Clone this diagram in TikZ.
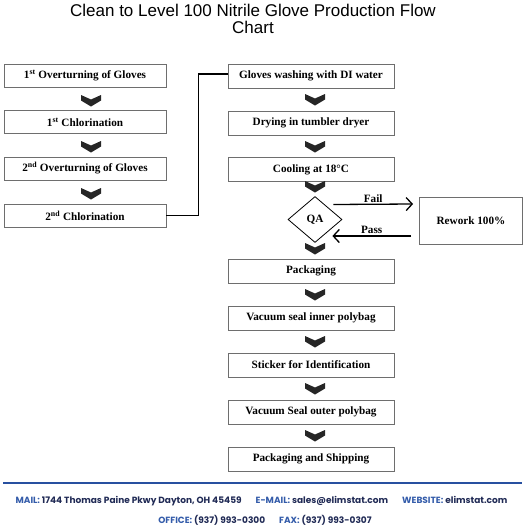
\documentclass[tikz,border=0pt]{standalone}
\usepackage{fontspec}
\setmainfont{Liberation Serif}
\newfontfamily\titlefont{Liberation Sans}
\newfontfamily\footfont{Poppins}
\usetikzlibrary{arrows.meta,shapes.geometric,calc}
\definecolor{boxline}{RGB}{110,110,110}
\definecolor{footlabel}{RGB}{52,92,170}
\definecolor{footval}{RGB}{32,42,85}
\definecolor{rulecol}{RGB}{40,80,160}
\begin{document}
\begin{tikzpicture}[x=1pt,y=-1pt,
  boxfont/.style={font=\fontsize{11.2}{13}\selectfont\bfseries},
  stepbox/.style={draw=boxline,line width=0.9pt,fill=white,minimum height=23pt,inner sep=0pt,boxfont},
  leftbox/.style={stepbox,minimum width=162pt},
  rightbox/.style={stepbox,minimum width=166pt,minimum height=24pt},
  chev/.style={fill=black!85},
  flowarr/.style={line width=1.3pt,-{Straight Barb[length=6pt,width=13pt,line width=1.3pt]}},
  footl/.style={inner sep=0pt,font=\footfont\fontsize{9}{10}\selectfont\bfseries},
]
\useasboundingbox (0,0) rectangle (525,525);
% title
\node[font=\titlefont\fontsize{17}{18}\selectfont] (title1) at (253,10.5) {Clean to Level 100 Nitrile Glove Production Flow};
\node[font=\titlefont\fontsize{17}{18}\selectfont] (title2) at (253,27.5) {Chart};
% left column
\node[leftbox] (o1) at (85,76) {1\textsuperscript{st} Overturning of Gloves};
\node[leftbox] (c1) at (85,122) {1\textsuperscript{st} Chlorination};
\node[leftbox] (o2) at (85,168.5) {2\textsuperscript{nd} Overturning of Gloves};
\node[leftbox] (c2) at (85,215.5) {2\textsuperscript{nd} Chlorination};
% right column
\node[rightbox] (wash) at (311,76) {Gloves washing with DI water};
\node[rightbox] (dry) at (311,123) {Drying in tumbler dryer};
\node[rightbox] (cool) at (311,169.5) {Cooling at 18°C};
\node[draw=black,line width=0.8pt,diamond,aspect=1.17,minimum width=54pt,minimum height=46pt,inner sep=0pt,boxfont] (qa) at (315,219.5) {QA};
\node[draw=boxline,line width=0.9pt,minimum width=103pt,minimum height=47pt,inner sep=0pt,boxfont] (rework) at (471,220.5) {Rework 100\%};
\node[rightbox] (pack) at (311,271) {Packaging};
\node[rightbox] (vin) at (311,318) {Vacuum seal inner polybag};
\node[rightbox] (stick) at (311,365) {Sticker for Identification};
\node[rightbox] (vout) at (311,412) {Vacuum Seal outer polybag};
\node[rightbox] (ship) at (311,459) {Packaging and Shipping};
% connector
\draw[line width=1.3pt] (c2.east) -- ++(32,0) |- ([yshift=2pt]wash.west);
% chevrons
\foreach \cx/\cy in {91/101, 91/147, 91/194, 315/100, 315/147, 315/187, 315/249, 315/295, 315/342, 315/389, 315/436}{
  \fill[chev] (\cx-10,\cy-6) -- (\cx,\cy-1.5) -- (\cx+10,\cy-6) -- (\cx+10,\cy-0.5) -- (\cx,\cy+5.5) -- (\cx-10,\cy-0.5) -- cycle;
}
% QA arrows
\coordinate (fs) at ($(qa.east)+(-9,-15)$);
\coordinate (fe) at ($(rework.west)+(-6,-16.5)$);
\coordinate (ps) at ($(rework.west)+(-8,15.5)$);
\coordinate (pe) at ($(qa.east)+(-10,16.5)$);
\draw[flowarr] (fs) -- (fe) node[midway,above=-2pt,boxfont] (faillbl) {Fail};
\draw[flowarr] (ps) -- (pe) node[midway,above=-2pt,boxfont] (passlbl) {Pass};
% footer
\draw[rulecol,line width=2pt] (3,483) -- (522,483);
\node[footl] (line1) at (261.5,501) {\textcolor{footlabel}{MAIL:} \textcolor{footval}{1744 Thomas Paine Pkwy Dayton, OH 45459}\hspace{14pt}\textcolor{footlabel}{E-MAIL:} \textcolor{footval}{sales@elimstat.com}\hspace{14pt}\textcolor{footlabel}{WEBSITE:} \textcolor{footval}{elimstat.com}};
\node[footl] (line2) at (265,520) {\textcolor{footlabel}{OFFICE:} \textcolor{footval}{(937) 993-0300}\hspace{14pt}\textcolor{footlabel}{FAX:} \textcolor{footval}{(937) 993-0307}};
\end{tikzpicture}
\end{document}
